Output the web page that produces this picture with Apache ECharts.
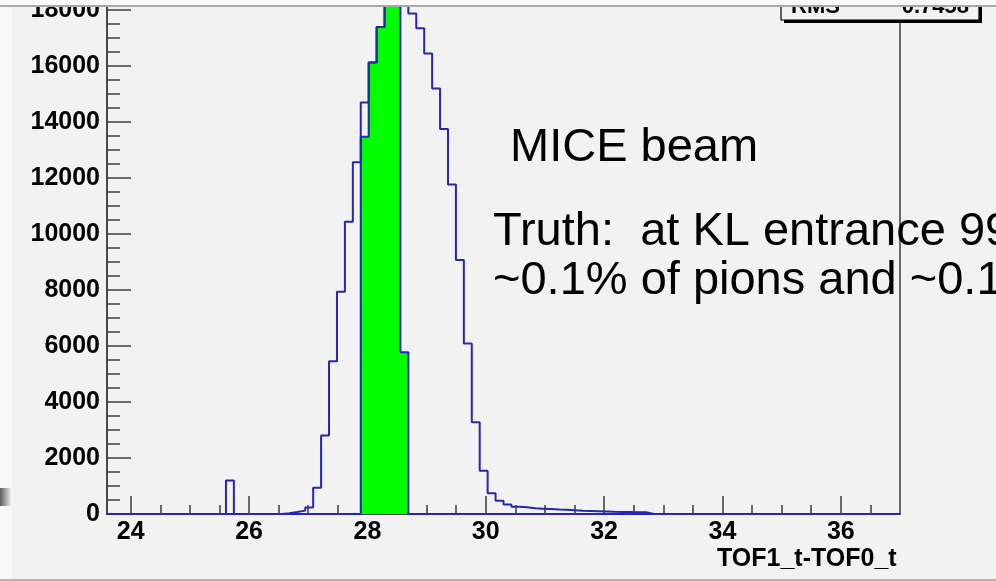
<!DOCTYPE html>
<html>
<head>
<meta charset="utf-8">
<script src="https://cdn.jsdelivr.net/npm/echarts@6/dist/echarts.min.js"></script>
<style>
  html, body { margin: 0; padding: 0; background: #f2f2f2; }
  #chart { width: 996px; height: 581px; }
</style>
</head>
<body>
<div id="chart"></div>
<script>
// TOF1 - TOF0 time difference histogram: 100 bins from 23.6 to 37.0 ns
const binLow = 23.6;
const binWidth = 0.134;

// All beam particles, counts per bin
const allCounts = [
  0, 0, 0, 0, 0, 0, 0, 0, 0, 0,
  0, 0, 0, 0, 0, 1200, 0, 0, 0, 0,
  0, 0, 25, 70, 120, 235, 935, 2800, 5455, 7935,
  10430, 12560, 14690, 16120, 17380, 18450, 18800, 18550, 17870, 17335,
  16440, 15190, 13740, 11765, 9065, 6090, 3275, 1540, 740, 475,
  340, 260, 245, 205, 190, 175, 160, 150, 135, 120,
  110, 100, 90, 80, 75, 70, 65, 60, 0, 0,
  0, 0, 0, 0, 0, 0, 0, 0, 0, 0,
  0, 0, 0, 0, 0, 0, 0, 0, 0, 0,
  0, 0, 0, 0, 0, 0, 0, 0, 0, 0
];

// Selected time window (filled)
const selCounts = [
  0, 0, 0, 0, 0, 0, 0, 0, 0, 0,
  0, 0, 0, 0, 0, 0, 0, 0, 0, 0,
  0, 0, 0, 0, 0, 0, 0, 0, 0, 0,
  0, 0, 13465, 16120, 17380, 18450, 18800, 5770, 0, 0,
  0, 0, 0, 0, 0, 0, 0, 0, 0, 0,
  0, 0, 0, 0, 0, 0, 0, 0, 0, 0,
  0, 0, 0, 0, 0, 0, 0, 0, 0, 0,
  0, 0, 0, 0, 0, 0, 0, 0, 0, 0,
  0, 0, 0, 0, 0, 0, 0, 0, 0, 0,
  0, 0, 0, 0, 0, 0, 0, 0, 0, 0
];

const xMajorTicks = [24, 26, 28, 30, 32, 34, 36];
const xMinorTicks = [24.5, 25, 25.5, 26.5, 27, 27.5, 28.5, 29, 29.5, 30.5, 31, 31.5,
                     32.5, 33, 33.5, 34.5, 35, 35.5, 36.5];
const yMax = 19740;
const xTitle = 'TOF1_t-TOF0_t';
const statsLabel = 'RMS';
const statsValue = '0.7458';
const noteLines = ['MICE beam', 'Truth:  at KL entrance 99', '~0.1% of pions and ~0.1'];

// Turn bin contents into an outline that steps at the bin edges
function histPoints(counts) {
  const pts = [[binLow, 0]];
  counts.forEach((c, i) => pts.push([binLow + i * binWidth, c]));
  const hi = binLow + counts.length * binWidth;
  pts.push([hi, counts[counts.length - 1]]);
  pts.push([hi, 0]);
  return pts;
}

const FONT = '"Liberation Sans", Arial, Helvetica, sans-serif';
const AXIS_COLOR = '#3c3c3c';
const HIST_BLUE = '#2626b0';

const gridPos = { left: 107, right: 96, top: -39, bottom: 67, containLabel: false, outerBoundsMode: 'none' };

const chart = echarts.init(document.getElementById('chart'), null, { renderer: 'canvas' });

chart.setOption({
  backgroundColor: '#f2f2f2',
  animation: false,
  grid: [
    Object.assign({ show: true, borderColor: AXIS_COLOR, borderWidth: 1.5, backgroundColor: 'transparent' }, gridPos),
    Object.assign({ show: false }, gridPos)
  ],
  xAxis: [
    {
      type: 'value', gridIndex: 0, min: binLow, max: binLow + 100 * binWidth,
      axisLine: { show: true, onZero: false, lineStyle: { color: AXIS_COLOR, width: 1.5 } },
      axisTick: { show: true, inside: true, length: 18, customValues: xMajorTicks,
                  lineStyle: { color: AXIS_COLOR, width: 1.5 } },
      axisLabel: { customValues: xMajorTicks, margin: 6, color: '#000',
                   fontFamily: FONT, fontWeight: 'bold', fontSize: 25,
                   formatter: v => String(v) },
      splitLine: { show: false },
      name: xTitle, nameLocation: 'end', nameGap: -183, nameMoveOverlap: false,
      nameTextStyle: { align: 'left', verticalAlign: 'top', padding: [33, 0, 0, 0],
                       color: '#000', fontFamily: FONT, fontWeight: 'bold', fontSize: 25 }
    },
    {
      type: 'value', gridIndex: 1, min: binLow, max: binLow + 100 * binWidth,
      axisLine: { show: false },
      axisTick: { show: true, inside: true, length: 9, customValues: xMinorTicks,
                  lineStyle: { color: AXIS_COLOR, width: 1.5 } },
      axisLabel: { show: false },
      splitLine: { show: false }
    }
  ],
  yAxis: [
    {
      type: 'value', gridIndex: 0, min: 0, max: yMax, interval: 2000,
      axisLine: { show: true, lineStyle: { color: AXIS_COLOR, width: 1.5 } },
      axisTick: { show: true, inside: true, length: 24, lineStyle: { color: AXIS_COLOR, width: 1.5 } },
      minorTick: { show: true, splitNumber: 4, length: 13, lineStyle: { color: AXIS_COLOR, width: 1.5 } },
      axisLabel: { showMaxLabel: false, margin: 7, color: '#000',
                   fontFamily: FONT, fontWeight: 'bold', fontSize: 25,
                   formatter: v => String(v) },
      splitLine: { show: false }
    },
    { type: 'value', gridIndex: 1, min: 0, max: yMax, show: false }
  ],
  series: [
    {
      type: 'line', xAxisIndex: 0, yAxisIndex: 0, step: 'end', symbol: 'none',
      data: histPoints(selCounts), z: 2,
      lineStyle: { color: HIST_BLUE, width: 2 },
      areaStyle: { color: '#00ff00', opacity: 1 }
    },
    {
      type: 'line', xAxisIndex: 0, yAxisIndex: 0, step: 'end', symbol: 'none',
      data: histPoints(allCounts), z: 3,
      lineStyle: { color: HIST_BLUE, width: 2 }
    }
  ],
  graphic: [
    // slide edge on the left
    { type: 'rect', z: 50, shape: { x: 0, y: 0, width: 12, height: 581 }, style: { fill: '#f9f9f9' } },
    { type: 'rect', z: 51, shape: { x: 0, y: 488, width: 11, height: 18 },
      style: { fill: new echarts.graphic.LinearGradient(0, 0, 1, 0, [
        { offset: 0, color: '#5c5c5c' }, { offset: 1, color: '#ececec' }]) } },
    // statistics box
    { type: 'rect', z: 60, shape: { x: 784, y: -37, width: 198, height: 60 }, style: { fill: '#000' } },
    { type: 'rect', z: 61, shape: { x: 781, y: -40, width: 198, height: 60 },
      style: { fill: '#f2f2f2', stroke: '#000', lineWidth: 1.2 } },
    { type: 'text', z: 62, style: { x: 791, y: 7, text: statsLabel, fill: '#000',
      font: 'bold 22px ' + FONT, verticalAlign: 'middle', align: 'left' } },
    { type: 'text', z: 62, style: { x: 969, y: 7, text: statsValue, fill: '#000',
      font: 'bold 22px ' + FONT, verticalAlign: 'middle', align: 'right' } },
    // annotation
    { type: 'text', z: 70, style: { x: 510, y: 148, text: noteLines[0], fill: '#000',
      font: '47px ' + FONT, verticalAlign: 'middle' } },
    { type: 'text', z: 70, style: { x: 493, y: 232, text: noteLines[1], fill: '#000',
      font: '47px ' + FONT, verticalAlign: 'middle' } },
    { type: 'text', z: 70, style: { x: 493, y: 281, text: noteLines[2], fill: '#000',
      font: '47px ' + FONT, verticalAlign: 'middle' } },
    // slide frame top and bottom
    { type: 'rect', z: 100, shape: { x: 0, y: 0, width: 996, height: 5 }, style: { fill: '#fbfbfb' } },
    { type: 'rect', z: 101, shape: { x: 0, y: 5, width: 996, height: 2 }, style: { fill: '#a9a9a9' } },
    { type: 'rect', z: 101, shape: { x: 0, y: 579, width: 996, height: 2 }, style: { fill: '#b4b4b4' } }
  ]
});
</script>
</body>
</html>
